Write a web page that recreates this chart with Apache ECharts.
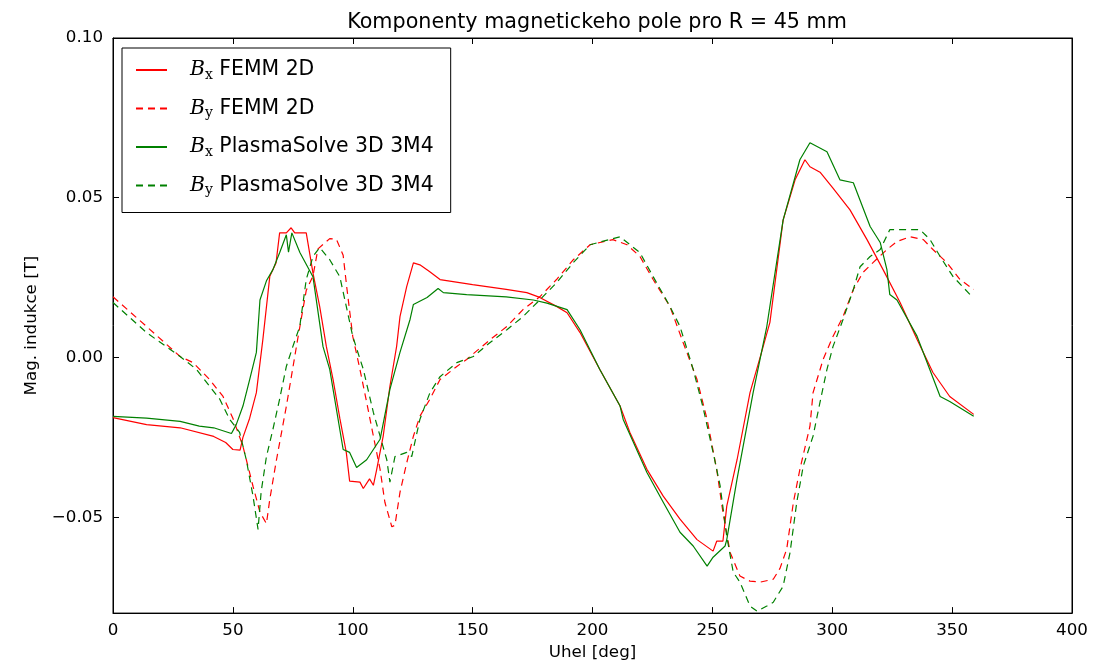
<!DOCTYPE html>
<html><head><meta charset="utf-8">
<script src="https://cdn.jsdelivr.net/npm/echarts@6/dist/echarts.min.js"></script>
<style>html,body{margin:0;padding:0;background:#fff}#c{width:1112px;height:666px}</style>
</head><body><div id="c"></div>
<script>
// ---- data ----
const bxFemmDeg = [0,14,28,42,47,50,53,54.2,57,59.8,62.5,65.4,68,69.5,72.3,74.3,75.8,80.6,83.4,86.2,89,91.8,94.6,97.3,98.7,103,104.4,107,108.6,110,112.7,115.5,118.3,119.7,122.5,125.3,128,132,136.4,150,164,172.6,178,185,189.4,194.8,203,211.5,215.6,222.7,229.5,236.5,243.6,250.3,251.8,254.4,256,260.3,265.7,270,274,279.5,284.5,288.6,290.7,294.9,300.3,307.4,314.5,321.2,328.3,335.4,342,349,359];
const bxFemmVal = [-0.0188,-0.021,-0.022,-0.0247,-0.0266,-0.0288,-0.029,-0.025,-0.019,-0.011,0.0056,0.0254,0.0296,0.039,0.039,0.0406,0.039,0.039,0.0265,0.016,0.0034,-0.0069,-0.019,-0.0297,-0.0387,-0.039,-0.041,-0.038,-0.040,-0.035,-0.0246,-0.009,0.0035,0.0128,0.0222,0.0296,0.029,0.0269,0.0244,0.0228,0.0213,0.0203,0.0188,0.016,0.014,0.0078,-0.0037,-0.0152,-0.0235,-0.035,-0.0434,-0.0506,-0.057,-0.0606,-0.0575,-0.0575,-0.0465,-0.032,-0.011,0.0003,0.011,0.043,0.0556,0.0619,0.0597,0.058,0.053,0.0462,0.0369,0.0275,0.0172,0.0056,-0.0047,-0.0122,-0.0178];

const byFemmDeg = [0,14,28,33.4,40.3,45.9,50,54.2,58.4,61.3,64,65.4,68,72.3,77,80.6,83.4,85.5,90.4,93.2,96,97.5,100,103,105.8,108.6,111.4,113.4,116.3,117.6,119.7,122.5,125.3,128,132.2,136.4,143.4,147.5,157.3,164.3,171,178,185,192,199,208.5,214.4,219.8,225.3,232.3,237.8,243.6,247.8,251.8,254.4,257.4,261.5,265.7,270,275.4,278.2,281,283.8,286.5,290.7,292,296.2,300.3,304.5,308.8,312.8,317,322.8,327,332.4,338,342,347.8,353.3,359];
const byFemmVal = [0.019,0.0097,0.0003,-0.0016,-0.0069,-0.0122,-0.019,-0.0278,-0.0403,-0.0484,-0.052,-0.0444,-0.0328,-0.0153,0.0056,0.021,0.0255,0.034,0.0372,0.037,0.032,0.022,0.0066,-0.0037,-0.014,-0.0246,-0.035,-0.0453,-0.053,-0.0525,-0.0422,-0.033,-0.0246,-0.0184,-0.013,-0.0069,-0.0028,-0.0006,0.0056,0.0097,0.015,0.019,0.0244,0.0306,0.0353,0.0369,0.0353,0.0316,0.0244,0.016,0.0047,-0.0069,-0.0194,-0.035,-0.0484,-0.061,-0.0684,-0.070,-0.0703,-0.0694,-0.066,-0.060,-0.0453,-0.035,-0.0215,-0.011,-0.0006,0.0066,0.0128,0.0213,0.0266,0.0297,0.0338,0.0363,0.0378,0.0369,0.0338,0.0297,0.0244,0.0213];

const bxPsDeg = [0,14,28,36,42,49.4,51.4,54.2,57,59.8,61.3,64,66.7,69.5,72.3,73.2,74.6,78,83.4,87.6,90.4,96,98.7,101.6,105.8,108.6,111.4,115.5,119.7,123.9,125.3,131,135.6,137.8,147.5,164,175.3,181,189.4,194.8,203,211.5,212.8,222.7,229.5,236.5,242,247.8,250.3,255.3,256,260.3,267,272.7,279.5,286.5,290.7,297.8,303.2,308.8,315.8,320,322.8,324,327,335.4,345,349,359];
const bxPsVal = [-0.0184,-0.019,-0.020,-0.0215,-0.022,-0.0238,-0.021,-0.0152,-0.0069,0.0016,0.018,0.024,0.0275,0.0328,0.0384,0.033,0.039,0.0328,0.0253,0.0034,-0.0037,-0.0288,-0.0297,-0.0344,-0.032,-0.0288,-0.0256,-0.01,0.0016,0.0119,0.0166,0.0188,0.0216,0.0203,0.0197,0.019,0.018,0.017,0.015,0.0087,-0.0037,-0.0152,-0.0194,-0.036,-0.0453,-0.0547,-0.059,-0.0653,-0.0625,-0.059,-0.057,-0.038,-0.011,0.0097,0.043,0.0619,0.0672,0.0644,0.0556,0.0547,0.041,0.036,0.0275,0.0197,0.018,0.0066,-0.0122,-0.0138,-0.0184];

const byPsDeg = [0,14,28,34.8,40.3,44.5,48.7,52.8,55.6,58.4,60.5,61.8,64,66.7,69.5,72.3,75,77.9,80.6,83.4,86.2,90.4,94.6,97.3,100,104.4,108.6,111.4,114.2,115.5,117.6,122.5,124.6,128,132.2,136.4,143.4,150.3,157.3,164.3,171,178,185,192,199,211.5,219.8,225.3,232.3,236.5,242,246,250.3,253.2,256,258.7,261.5,265.7,268.6,272.7,275.4,279.5,282.4,285.2,287.9,292,294.9,297.8,300.3,304.5,308.8,311.6,315.8,320,324,328.3,336.6,340.8,345,350.4,357.5];
const byPsVal = [0.0172,0.0078,0.0003,-0.0037,-0.009,-0.013,-0.0194,-0.0234,-0.032,-0.0434,-0.0538,-0.042,-0.031,-0.0225,-0.013,-0.0028,0.0034,0.0097,0.0244,0.0316,0.0344,0.0306,0.0253,0.016,0.0066,-0.0037,-0.0172,-0.0246,-0.032,-0.039,-0.031,-0.0297,-0.031,-0.0194,-0.011,-0.006,-0.0016,0.0003,0.0047,0.0087,0.0128,0.018,0.0234,0.0297,0.0353,0.0378,0.0328,0.0253,0.016,0.0097,-0.0037,-0.0153,-0.0297,-0.040,-0.056,-0.0672,-0.0703,-0.0778,-0.0794,-0.0778,-0.0766,-0.0716,-0.061,-0.0453,-0.034,-0.0246,-0.014,-0.0037,0.0034,0.0119,0.0213,0.0284,0.0316,0.0338,0.040,0.040,0.040,0.0369,0.0316,0.0253,0.0197];

const seriesNames = ['Bx FEMM 2D','By FEMM 2D','Bx PlasmaSolve 3D 3M4','By PlasmaSolve 3D 3M4'];
const legendLabels = {
  'Bx FEMM 2D': ['x','FEMM 2D'],
  'By FEMM 2D': ['y','FEMM 2D'],
  'Bx PlasmaSolve 3D 3M4': ['x','PlasmaSolve 3D 3M4'],
  'By PlasmaSolve 3D 3M4': ['y','PlasmaSolve 3D 3M4']
};
const xTicks = [0,50,100,150,200,250,300,350,400];
const yTicks = [-0.05,0,0.05,0.10];
const titleText = 'Komponenty magnetickeho pole pro R = 45 mm';
const xName = 'Uhel [deg]';
const yName = 'Mag. indukce [T]';

// ---- chart ----
const zip = (a,b) => a.map((v,i)=>[v,b[i]]);
const FONT = 'DejaVu Sans';
const RED = '#ff0000', GREEN = '#008000';
const fmtY = v => (Math.abs(v) < 1e-9 ? '0.00' : v.toFixed(2).replace('-', '\u2212'));

const chart = echarts.init(document.getElementById('c'), null, {renderer:'canvas'});
const mkSeries = (name, deg, val, color, dashed) => ({
  name, type:'line', data: zip(deg,val), showSymbol:false, symbol:'none',
  xAxisIndex:0, yAxisIndex:0,
  lineStyle:{color, width:1.2, type: dashed ? [7,5] : 'solid'},
  itemStyle:{color}, animation:false, z:2
});

const baseX = {
  type:'value', min:0, max:400, interval:50,
  axisLine:{show:true, onZero:false, lineStyle:{color:'#000', width:1}},
  axisTick:{show:true, inside:true, length:6, customValues:xTicks, lineStyle:{color:'#000'}},
  splitLine:{show:false}
};
const baseY = {
  type:'value', min:-0.08, max:0.10,
  axisLine:{show:true, onZero:false, lineStyle:{color:'#000', width:1}},
  axisTick:{show:true, inside:true, length:6, customValues:yTicks, lineStyle:{color:'#000'}},
  splitLine:{show:false}
};

chart.setOption({
  backgroundColor:'#fff',
  animation:false,
  title:{text:titleText, left:592, top:7, textAlign:'center',
    textStyle:{fontFamily:FONT, fontWeight:'normal', fontSize:20.7, color:'#000'}},
  grid:{left:113, top:38, width:959, height:576, show:true, borderColor:'#000', borderWidth:1, backgroundColor:'#fff'},
  legend:{
    orient:'vertical', left:122, top:48, data:seriesNames,
    backgroundColor:'#fff', borderColor:'#000', borderWidth:1, borderRadius:0,
    padding:[10,17,15,13], itemWidth:31, itemHeight:14, itemGap:14.5,
    itemStyle:{opacity:0},
    formatter: n => '{sp|}{b|B}{s|' + legendLabels[n][0] + '}{t| ' + legendLabels[n][1] + '}',
    textStyle:{
      fontFamily:FONT, fontSize:20.4, color:'#000',
      rich:{
        sp:{width:18},
        b:{fontFamily:'DejaVu Serif', fontStyle:'italic', fontSize:20.4, lineHeight:24},
        s:{fontFamily:'DejaVu Serif', fontSize:14, lineHeight:24, padding:[10,0,0,0]},
        t:{fontFamily:FONT, fontSize:20.4, lineHeight:24}
      }
    }
  },
  xAxis:[
    Object.assign({}, baseX, {position:'bottom', name:xName, nameLocation:'middle', nameGap:29,
      nameTextStyle:{fontFamily:FONT, fontSize:16.7, color:'#000'},
      axisLabel:{show:true, margin:9, customValues:xTicks, fontFamily:FONT, fontSize:16.7, color:'#000'}}),
    Object.assign({}, baseX, {position:'top', gridIndex:0, axisLabel:{show:false}})
  ],
  yAxis:[
    Object.assign({}, baseY, {position:'left', name:yName, nameLocation:'middle', nameGap:73, nameRotate:90,
      nameTextStyle:{fontFamily:FONT, fontSize:16.7, color:'#000'},
      axisLabel:{show:true, margin:10, customValues:yTicks, formatter:fmtY, fontFamily:FONT, fontSize:16.7, color:'#000'}}),
    Object.assign({}, baseY, {position:'right', gridIndex:0, axisLabel:{show:false}})
  ],
  series:[
    mkSeries(seriesNames[0], bxFemmDeg, bxFemmVal, RED, false),
    mkSeries(seriesNames[1], byFemmDeg, byFemmVal, RED, true),
    mkSeries(seriesNames[2], bxPsDeg, bxPsVal, GREEN, false),
    mkSeries(seriesNames[3], byPsDeg, byPsVal, GREEN, true)
  ]
});
</script></body></html>
